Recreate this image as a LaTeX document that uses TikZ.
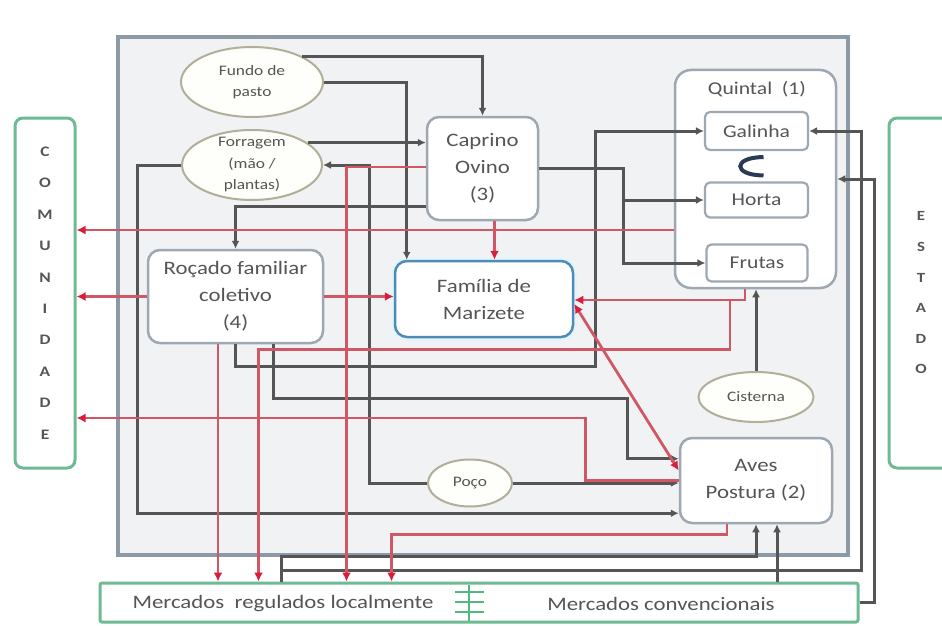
\documentclass[tikz,border=0pt]{standalone}
\usepackage{fontspec}
\setmainfont{Carlito}[FakeStretch=1.2]
\usetikzlibrary{arrows.meta,calc,shapes.geometric}

\definecolor{flowc}{HTML}{555555}
\definecolor{salec}{HTML}{CF5766}
\definecolor{saletip}{HTML}{D91E3C}
\definecolor{framec}{HTML}{8D99A4}
\definecolor{framefill}{HTML}{F1F2F3}
\definecolor{boxline}{HTML}{9DA8B3}
\definecolor{famline}{HTML}{4E8CB4}
\definecolor{ovline}{HTML}{B1AF9A}
\definecolor{ovfill}{HTML}{FEFEFA}
\definecolor{extline}{HTML}{6DBA93}
\definecolor{sepc}{HTML}{4DBB7D}
\definecolor{cyclec}{HTML}{2B3A52}
\definecolor{txt}{HTML}{555555}

\begin{document}
\begin{tikzpicture}[x=1pt,y=-1pt,
  every node/.style={text=txt, inner sep=0pt},
  sysframe/.style={draw=framec, line width=3.2pt, fill=framefill},
  extbox/.style={draw=extline, line width=3pt, fill=white, rounded corners=8pt,
    align=center, font=\bfseries\fontsize{14.5}{31.4}\selectfont},
  unit/.style={draw=boxline, line width=2.5pt, fill=white, rounded corners=12pt,
    align=center, font=\fontsize{19}{27}\selectfont},
  famunit/.style={unit, draw=famline, preaction={draw=cyan!12, line width=7pt}},
  subunit/.style={draw=boxline, line width=2.2pt, fill=white, rounded corners=5pt,
    font=\fontsize{18}{22}\selectfont},
  oval/.style={ellipse, draw=ovline, line width=2pt, fill=ovfill},
  ovaltext/.style={align=center, font=\fontsize{14.5}{21.5}\selectfont},
  flow/.style={draw=flowc, line width=3pt, -{Latex[length=8pt,width=8pt]}},
  sale/.style={draw=salec, line width=2.8pt, -{Latex[length=9pt,width=9pt,color=saletip]}},
  salebi/.style={draw=salec, line width=2.8pt,
    {Latex[length=9pt,width=9pt,color=saletip]}-{Latex[length=9pt,width=9pt,color=saletip]}},
  sepline/.style={draw=sepc, line width=2pt}
]
\fill[white] (0,0) rectangle (942,626);
\useasboundingbox (0,0) rectangle (942,626);

% system boundary
\node[sysframe, minimum width=730, minimum height=518] (sys) at (483,296) {};

% outside actors
\node[extbox, minimum width=60, minimum height=350] (comu) at (45,293) {C\\O\\M\\U\\N\\I\\D\\A\\D\\E};
\node[extbox, minimum width=64, minimum height=350, font=\bfseries\fontsize{14}{30.6}\selectfont] (estado) at (921,293) {E\\S\\T\\A\\D\\O};
\node[extbox, rounded corners=2pt, minimum width=758, minimum height=39] (merc) at (479,602.5) {};
\node[font=\fontsize{19}{22}\selectfont] (mregtxt) at (283,604) {Mercados\ \ regulados localmente};
\node[font=\fontsize{19}{22}\selectfont] (mconvtxt) at (661,604) {Mercados convencionais};
\draw[sepline] (469,585) -- (469,621);
\foreach \yy in {592,602,612} \draw[sepline] (455,\yy) -- (484,\yy);

% resources
\node[oval, minimum width=142, minimum height=70] (fundo) at (252,82) {};
\node[ovaltext] (fundotxt) at (fundo) {Fundo de\\pasto};
\node[oval, minimum width=140, minimum height=70] (forr) at (252,165) {};
\node[ovaltext] (forrtxt) at (forr) {Forragem\\(mão /\\plantas)};
\node[oval, minimum width=115, minimum height=50] (cisterna) at (756,397) {};
\node[ovaltext] (cistxt) at (cisterna) {Cisterna};
\node[oval, minimum width=84, minimum height=47] (poco) at (470,483) {};
\node[ovaltext] (pocotxt) at (poco) {Poço};

% subsystems
\node[unit, minimum width=111, minimum height=103] (capr) at (482.5,168.5) {Caprino\\Ovino\\(3)};
\node[unit, rounded corners=16pt, minimum width=161, minimum height=218] (quintal) at (755.5,179) {};
\node[font=\fontsize{18}{22}\selectfont] (quintxt) at (757,89) {Quintal\ \ (1)};
\node[subunit, minimum width=103, minimum height=38] (galinha) at (756.5,131) {Galinha};
\node[subunit, minimum width=103, minimum height=35] (horta) at (756.5,200) {Horta};
\node[subunit, minimum width=101, minimum height=37] (frutas) at (757,263) {Frutas};
\node[unit, minimum width=175, minimum height=93] (rocado) at (235.5,296.5) {Roçado familiar\\coletivo\\(4)};
\node[famunit, minimum width=178, minimum height=76] (familia) at (484,299) {Família de\\Marizete};
\node[unit, minimum width=152, minimum height=85] (aves) at (756,480.5) {Aves\\Postura (2)};

% cycle between galinha and horta
\draw[cyclec, line width=4pt] ($(galinha.south)+(7,6)$) .. controls ($(galinha.south)+(-24,6)$) and ($(horta.north)+(-24,-6)$) .. ($(horta.north)+(7,-6)$);

% helper points
\coordinate (avin) at ($(aves.south)+(21,0)$);
\coordinate (qw) at ($(quintal.west)+(0,51)$);
\coordinate (cs) at ($(capr.south)+(12,0)$);
\coordinate (rs) at ($(rocado.south)+(-17.5,0)$);
\coordinate (rj) at ($(quintal.south)+(-25.5,12)$);
\coordinate (mq) at ($(merc.north west)+(183,0)$);

% material flows
\draw[flow] (fundo.27) -| (capr.north);
\draw[flow] (fundo.east) -| ($(familia.north west)+(13,0)$);
\draw[flow] (forr.22) -- (forr.22 -| capr.west);
\draw[flow] (poco.west) -| ($(forr.east)+(46,0)$) -- (forr.east);
\draw[flow] (poco.east) -- (poco.east -| aves.west);
\draw[flow] ($(capr.south west)+(0,-15)$) -| (rocado.north);
\draw[flow] (forr.west) -- ++(-44,0) |- ($(aves.south west)+(0,-11)$);
\draw[flow] (capr.east) -- ++(84,0) |- (horta.west);
\draw[flow] (capr.east) -- ++(84,0) |- (frutas.west);
\draw[flow] (rocado.south) -- ++(0,22) -| ($(galinha.west)+(-108,0)$) -- (galinha.west);
\draw[flow] ($(rocado.south)+(37.5,0)$) |- ($(rocado.south)+(391.5,54)$) |- ($(aves.north west)+(0,22)$);
\draw[flow] (cisterna.north) -- (cisterna.north |- quintal.south);
\draw[flow] (mq) -- ++(0,-11) -| ($(galinha.east)+(52,0)$) -- (galinha.east);
\draw[flow] (mq) -- ++(0,-25) -| (aves.south);
\draw[flow] (avin |- merc.north) -- (avin);
\draw[flow] (merc.east) -- ++(15,0) |- (quintal.east);

% sales and exchanges
\draw[sale] (qw) -- (qw -| comu.east);
\draw[sale] (cs) -- (cs |- familia.north);
\draw[sale] ($(capr.west)+(0,-1.5)$) -| ($(merc.north west)+(248,0)$);
\draw[sale] (rocado.west) -- (rocado.west -| comu.east);
\draw[sale] (rocado.east) -- (rocado.east -| familia.west);
\draw[sale] (rs) -- (rs |- merc.north);
\draw[sale] ($(quintal.south)+(-10.5,0)$) |- ($(familia.east)+(0,1)$);
\draw[sale] (rj) -- ++(0,48) -| ($(merc.north west)+(160,0)$);
\draw[sale] (aves.west) -- ++(-93,0) |- ($(comu.east)+(0,125)$);
\draw[salebi] ($(familia.east)+(0,5)$) -- ($(aves.west)+(0,-10)$);
\draw[sale] ($(aves.south)+(-29,0)$) -- ++(0,10) -| ($(merc.north west)+(293,0)$);
\end{tikzpicture}
\end{document}
